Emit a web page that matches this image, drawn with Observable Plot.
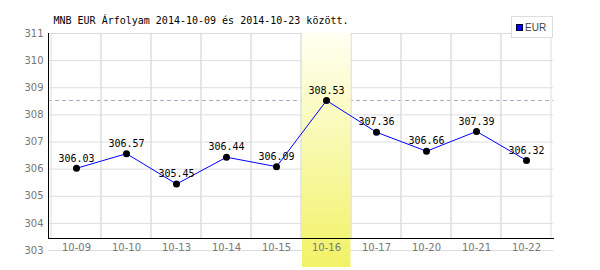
<!DOCTYPE html>
<html>
<head>
<meta charset="utf-8">
<script src="https://cdn.jsdelivr.net/npm/d3@7"></script>
<script src="https://cdn.jsdelivr.net/npm/@observablehq/plot@0.6"></script>
<style>
  html, body { margin: 0; padding: 0; background: #fff; }
  #wrap { position: relative; width: 600px; height: 270px; }
  #legend {
    position: absolute; left: 511px; top: 16px; width: 40px; height: 20px;
    border: 1px solid #ddd; background: #fff; box-sizing: content-box;
    font: 10px "Liberation Sans", Arial, sans-serif; color: #444;
    display: flex; align-items: center;
  }
  #legend .sw { width: 5px; height: 5px; background: #0000ff; border: 1px solid #000033; margin: 0 2px 0 4px; }
</style>
</head>
<body>
<div id="wrap"><div id="legend"><span class="sw"></span><span>EUR</span></div></div>
<script>
const titleText = "MNB EUR Árfolyam 2014-10-09 és 2014-10-23 között.";
const seriesName = "EUR";
const dates = ["10-09","10-10","10-13","10-14","10-15","10-16","10-17","10-20","10-21","10-22"];
const rates = [306.03, 306.57, 305.45, 306.44, 306.09, 308.53, 307.36, 306.66, 307.39, 306.32];
const yTicks = [303, 304, 305, 306, 307, 308, 309, 310, 311];
const highlightDates = ["10-16"];
const highlightTop = 311;
const highlightBottom = 302.37;

const data = dates.map((d, i) => ({date: d, rate: rates[i]}));
const maxRate = d3.max(rates);

const gradientDefs = () => {
  const g = d3.create("svg:g");
  const lg = g.append("defs").append("linearGradient")
    .attr("id", "hlgrad").attr("x1", 0).attr("y1", 0).attr("x2", 0).attr("y2", 1);
  lg.append("stop").attr("offset", "0%").attr("stop-color", "#fffff2");
  lg.append("stop").attr("offset", "100%").attr("stop-color", "#f2f266");
  return g.node();
};

const chart = Plot.plot({
  width: 600,
  height: 270,
  marginLeft: 48,
  marginRight: 47,
  marginTop: 33,
  marginBottom: 32,
  style: {background: "#fff", overflow: "visible"},
  x: {type: "band", domain: dates, padding: 0, label: null},
  y: {domain: [303, 311], range: [250, 33], label: null},
  marks: [
    gradientDefs,
    Plot.ruleY(yTicks, {stroke: "#dddddd", strokeWidth: 1}),
    Plot.ruleY([maxRate], {stroke: "#aaaac4", strokeDasharray: "4,3", strokeWidth: 1}),
    Plot.barY(dates, {x: d => d, y1: 303, y2: 311, fill: "none", stroke: "#dddddd", strokeWidth: 1, clip: true}),
    Plot.barY(highlightDates, {x: d => d, y1: highlightBottom, y2: highlightTop, fill: "url(#hlgrad)", insetLeft: 1, insetRight: 0.5}),
    Plot.frame({anchor: "left", stroke: "#000"}),
    Plot.frame({anchor: "bottom", stroke: "#000"}),
    Plot.axisY({ticks: yTicks, tickSize: 0, tickPadding: 5, fill: "#777", fontSize: 10, fontFamily: "DejaVu Sans", label: null}),
    Plot.axisX({tickSize: 0, tickPadding: 5, fill: "#777", fontSize: 10, fontFamily: "DejaVu Sans", label: null}),
    Plot.line(data, {x: "date", y: "rate", stroke: "#0000ff", strokeWidth: 1}),
    Plot.dot(data, {x: "date", y: "rate", r: 3.5, fill: "#000", stroke: "none"}),
    Plot.text(data, {x: "date", y: "rate", text: d => d.rate.toFixed(2), dy: -10, fontFamily: "DejaVu Sans Mono", fontSize: 10, fill: "#000"}),
    Plot.text([titleText], {frameAnchor: "top-left", dx: 5, dy: -13, textAnchor: "start", lineAnchor: "middle", fontFamily: "DejaVu Sans Mono", fontSize: 10, fill: "#000"})
  ]
});
document.getElementById("wrap").prepend(chart);
</script>
</body>
</html>
